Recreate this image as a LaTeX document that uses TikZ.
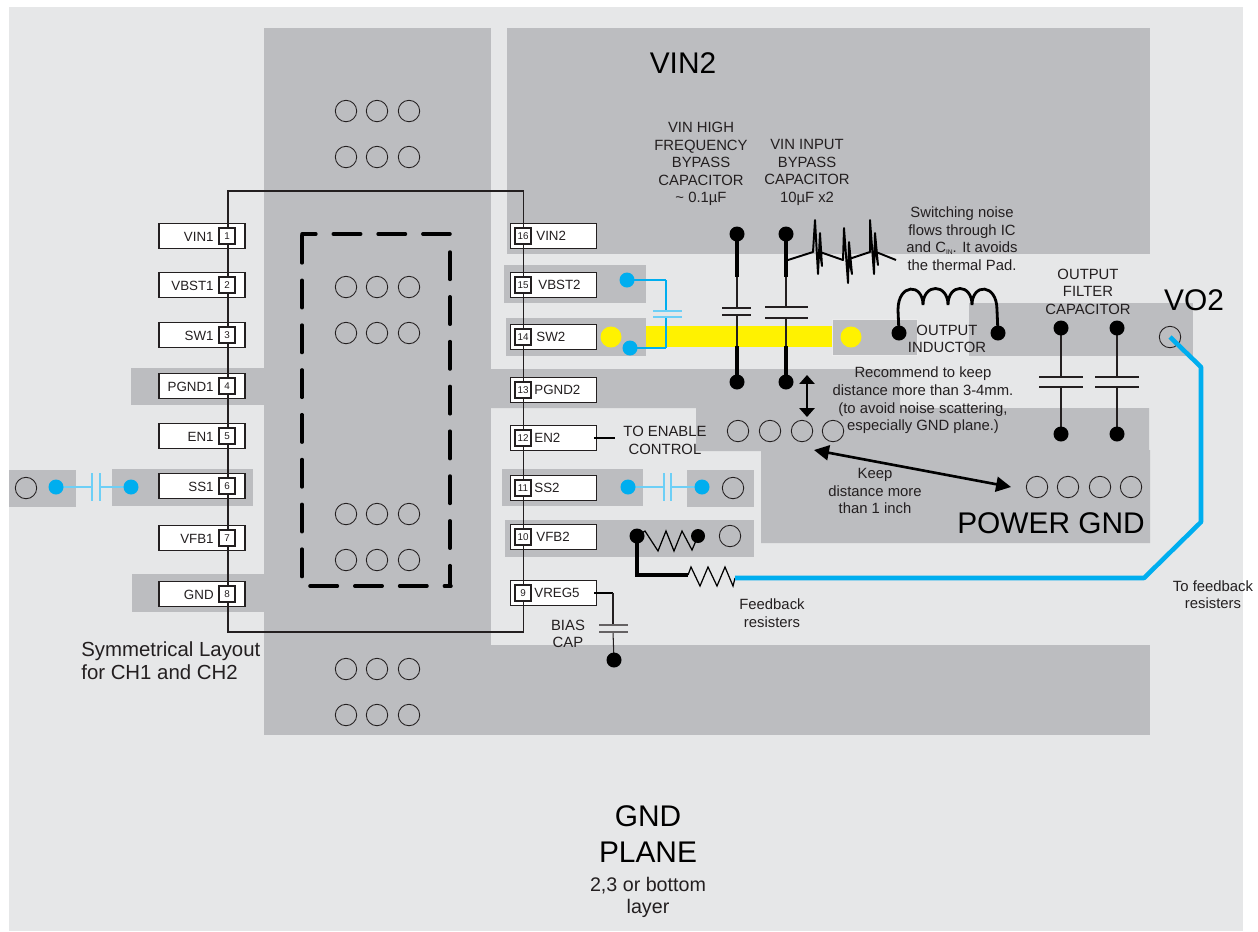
\documentclass[tikz,border=0pt]{standalone}
\usepackage{fontspec}
\setmainfont{Liberation Sans}
\usepackage{tikz}
\usetikzlibrary{arrows.meta}
\definecolor{planegray}{HTML}{E6E7E8}
\definecolor{padgray}{HTML}{BCBDC0}
\definecolor{traceblue}{HTML}{00AEEF}
\definecolor{capblue}{HTML}{6DCFF6}
\definecolor{inkblack}{HTML}{231F20}
\definecolor{swyellow}{HTML}{FFF200}
\tikzset{
  pad/.style={fill=padgray,draw=none},
  thinwire/.style={draw=inkblack,line width=.6pt},
  platewire/.style={draw=inkblack,line width=.8pt},
  thickwire/.style={draw=black,line width=1.8pt},
  bluewire/.style={draw=traceblue,line width=1.5pt},
  capwire/.style={draw=capblue,line width=.7pt},
  via/.style={draw=inkblack,line width=.5pt},
  thermal/.style={black,line width=2pt,line cap=round,dash pattern=on 15.6pt off 9.9pt},
  pinbox/.style={draw=inkblack,fill=white,line width=.6pt,minimum width=1.72cm,minimum height=.5cm,inner sep=0pt},
  numbox/.style={draw=inkblack,fill=white,line width=.8pt,minimum width=.32cm,minimum height=.32cm,inner sep=0pt,font=\fontsize{5.6}{6}\selectfont,text=inkblack},
  pintext/.style={inner sep=0pt,text=inkblack,font=\fontsize{7.6}{10}\selectfont},
  note/.style={inner sep=0pt,align=center,text=inkblack,font=\fontsize{8.45}{10}\selectfont},
  bignote/.style={inner sep=0pt,align=center,text=black,font=\fontsize{17}{20}\selectfont},
  distarrow/.style={black,line width=1.5pt},
}
\begin{document}
\begin{tikzpicture}[x=.02cm,y=-.02cm]
  \useasboundingbox (0,0) rectangle (1258,931);
  \fill[planegray] (9,7) rectangle (1243,931);

  % copper areas
  \fill[pad] (264,28) rectangle (491,735);
  \fill[pad] (491,645) rectangle (1150,735);
  \fill[pad] (507,28) rectangle (1150,254);
  \fill[pad] (131,368) rectangle (264,405);
  \fill[pad] (132,574) rectangle (264,612);
  \fill[pad] (9,470) rectangle (76,507);
  \fill[pad] (112,469) rectangle (253,506);
  \fill[pad] (491,369)--(900,369)--(900,408)--(1149,408)--(1149,450)--(1150,450)--(1150,543)
      --(761,543)--(761,451)--(696,451)--(696,408)--(491,408)--cycle;
  \fill[pad] (504,265) rectangle (646,303);
  \fill[pad] (506,318) rectangle (646,356);
  \fill[pad] (502,469) rectangle (643,506);
  \fill[pad] (687,470) rectangle (754,507);
  \fill[pad] (505,520) rectangle (754,557);
  \filldraw[pad,draw=white!70!padgray,line width=.4pt] (832,319) rectangle (917,355);
  \fill[pad] (969,303) rectangle (1193,356);
  \fill[swyellow] (646,326) rectangle (832,347);
  \fill[swyellow] (611,337) circle(10.5);
  \fill[swyellow] (851,337) circle(10.5);

  % vias
  \foreach \viay in {111,157,287,333,514,560,669,715}
    \foreach \viax in {346,377,409}
      \draw[via] (\viax,\viay) circle(10.7);
  \foreach \viax in {738,770,802,833}
    \draw[via] (\viax,431) circle(10.7);
  \foreach \viax in {1037,1068,1100,1131}
    \draw[via] (\viax,487) circle(10.7);
  \draw[via] (733,488) circle(10.7);
  \draw[via] (730,536) circle(10.7);
  \draw[via] (1170,337) circle(10.7);
  \draw[via] (26,488) circle(10.7);

  % thermal pad
  \draw[thermal] (302,235.5)--(302,578);
  \draw[thermal,dash phase=7.7pt] (302,234)--(450,234);
  \draw[thermal] (450,252)--(450,586);
  \draw[thermal] (310,586)--(451,586);

  % pins
  \foreach \n/\piny/\pinname in {1/236/VIN1,2/285/VBST1,3/335/SW1,4/386/PGND1,5/436/EN1,6/486/SS1,7/538/VFB1,8/594/GND}{
    \node[pinbox] (pin\n) at (202,\piny) {};
    \node[pintext,anchor=east] (lab\n) at (214,\piny+1) {\pinname};
  }
  \foreach \n/\piny/\labx/\pinname in {16/236/536/VIN2,15/285/538/VBST2,14/337/536/SW2,13/390/534/PGND2,12/438/534/EN2,11/488/534/SS2,10/537/536/VFB2,9/593/534/VREG5}{
    \node[pinbox] (pin\n) at (553.5,\piny) {};
    \node[pintext,anchor=west] (lab\n) at (\labx,\piny) {\pinname};
  }
  \draw[thinwire] (228,191) rectangle (523.5,632);
  \foreach \n/\pinx/\piny in {1/227/236,2/227/285,3/227/335,4/227/386,5/227/436,6/227/486,7/227/538,8/227/594,16/523/236,15/523/285,14/523/337,13/523/390,12/523/438,11/523/488,10/523/537,9/523/593}
    \node[numbox] (num\n) at (\pinx,\piny) {\n};

  % input capacitors
  \coordinate (hftop) at (737,234);
  \coordinate (hfmid) at (737,277);
  \coordinate (hflow) at (737,346);
  \coordinate (hfbot) at (737,382);
  \coordinate (intop) at (786,234);
  \coordinate (inmid) at (786,277);
  \coordinate (inlow) at (786,346);
  \coordinate (inbot) at (786,382);
  \draw[thickwire] (hftop)--(hfmid);
  \draw[thickwire] (hflow)--(hfbot);
  \draw[thinwire] (hfmid)--(737,308);
  \draw[thinwire] (737,315)--(hflow);
  \draw[platewire] (722,308)--(751,308);
  \draw[platewire] (722,315)--(751,315);
  \draw[thickwire] (intop)--(inmid);
  \draw[thickwire] (inlow)--(inbot);
  \draw[thinwire] (inmid)--(786,307);
  \draw[thinwire] (786,318)--(inlow);
  \draw[platewire] (765,307)--(808,307);
  \draw[platewire] (765,318)--(808,318);
  \fill (hftop) circle(7.5);
  \fill (hfbot) circle(7.5);
  \fill (intop) circle(7.5);
  \fill (inbot) circle(7.5);

  % switching noise
  \draw[black,line width=1.1pt,line join=round] (788,260)--(813,252)--(815,220)--(818,274)--(820,233)--(822,266)--(820,252)
      --(843,260)--(844,228)--(848,283)--(849,242)--(852,274)--(849,259)
      --(870,252)--(870,220)--(874,274)--(875,233)--(878,265)--(876,252)--(896,260);

  % inductor
  \coordinate (lleft) at (899,333);
  \coordinate (lright) at (998,333);
  \draw[black,line width=1.6pt] (lleft)--(898,310) .. controls (898,283) and (923,283) .. (923,305)
      .. controls (923,283) and (948,283) .. (948,305)
      .. controls (948,283) and (972,283) .. (972,305)
      .. controls (972,283) and (997,283) .. (997,310)--(lright);
  \fill (lleft) circle(7.5);
  \fill (lright) circle(7.5);

  % output capacitors
  \coordinate (outatop) at (1061,328);
  \coordinate (outabot) at (1061,434);
  \coordinate (outbtop) at (1117,328);
  \coordinate (outbbot) at (1117,434);
  \draw[thinwire] (outatop)--(1061,377);
  \draw[thinwire] (1061,387)--(outabot);
  \draw[platewire] (1039,377)--(1083,377);
  \draw[platewire] (1039,387)--(1083,387);
  \draw[thinwire] (outbtop)--(1117,377);
  \draw[thinwire] (1117,387)--(outbbot);
  \draw[platewire] (1095,377)--(1139,377);
  \draw[platewire] (1095,387)--(1139,387);
  \fill (outatop) circle(7.5);
  \fill (outabot) circle(7.5);
  \fill (outbtop) circle(7.5);
  \fill (outbbot) circle(7.5);

  % boot capacitor
  \coordinate (bsta) at (627,280);
  \coordinate (bstb) at (630,348);
  \coordinate (bstc) at (666,280);
  \coordinate (bstd) at (666,348);
  \draw[bluewire] (bsta)--(bstc);
  \draw[bluewire] (bstb)--(bstd);
  \draw[traceblue,line width=.7pt] (bstc)--(666,311);
  \draw[traceblue,line width=.7pt] (666,317)--(bstd);
  \draw[capwire] (653,311)--(682,311);
  \draw[capwire] (653,317)--(682,317);
  \fill[traceblue] (bsta) circle(7.5);
  \fill[traceblue] (bstb) circle(7.5);

  % soft start capacitors
  \coordinate (ssa) at (628,487);
  \coordinate (ssb) at (702,487);
  \coordinate (ssc) at (56,487);
  \coordinate (ssd) at (131,487);
  \draw[capwire] (ssa)--(664,487);
  \draw[capwire] (671,487)--(ssb);
  \draw[capwire] (664,473)--(664,501);
  \draw[capwire] (671,473)--(671,501);
  \draw[capwire] (ssc)--(92,487);
  \draw[capwire] (100,487)--(ssd);
  \draw[capwire] (92,473)--(92,501);
  \draw[capwire] (100,473)--(100,501);
  \fill[traceblue] (ssa) circle(7.5);
  \fill[traceblue] (ssb) circle(7.5);
  \fill[traceblue] (ssc) circle(7.5);
  \fill[traceblue] (ssd) circle(7.5);

  % feedback
  \coordinate (fba) at (637,536);
  \coordinate (fbb) at (698,536);
  \coordinate (fbc) at (688,575);
  \coordinate (fbd) at (735,578);
  \coordinate (fbe) at (1201,367);
  \coordinate (fbf) at (1201,522);
  \coordinate (fbg) at (1144,578);
  \coordinate (vout) at (1170,337);
  \draw[black,line width=.7pt] (fba)--(645,531)--(658,551)--(666,531)--(674,551)--(682,531)--(692,550)--(fbb);
  \draw[black,line width=.7pt] (fbc)--(691,567)--(700,586)--(708,567)--(717,586)--(725,567)--(733,586)--(fbd);
  \draw[thickwire,line join=miter] (fba)--(637,575)--(fbc);
  \draw[traceblue,line width=2.6pt,line join=round] (fbd)--(fbg)--(fbf)--(fbe)--(vout);
  \fill (fba) circle(7.5);
  \fill (fbb) circle(7);

  % enable and bias
  \coordinate (ena) at (594,438);
  \coordinate (enb) at (615,438);
  \coordinate (biasa) at (594,593);
  \coordinate (biasb) at (613,593);
  \coordinate (biasc) at (614,660);
  \draw[thickwire,line width=1.3pt] (ena)--(enb);
  \draw[thickwire,line width=1.3pt] (biasa)--(biasb);
  \draw[thinwire] (biasb)--(613,625);
  \draw[thinwire] (613,632)--(biasc);
  \draw[platewire,draw=inkblack!70] (599,625)--(628,625);
  \draw[platewire,draw=inkblack!70] (599,632)--(628,632);
  \fill (biasc) circle(7.5);

  % distance arrows
  \coordinate (gapa) at (807,375);
  \coordinate (gapb) at (807,417);
  \coordinate (keepa) at (814,450);
  \coordinate (keepb) at (1011,487);
  \draw[distarrow,{Triangle[length=5pt,width=8.5pt]}-{Triangle[length=5pt,width=8.5pt]}] (gapa)--(gapb);
  \draw[distarrow,{Triangle[length=8.5pt,width=8.5pt]}-{Triangle[length=8.5pt,width=8.5pt]}] (keepa)--(keepb);

  % labels
  \node[bignote] (vintwo) at (683,63) {VIN2};
  \node[bignote] (vtwo) at (1194,300) {VO2};
  \node[bignote] (pgnd) at (1051,523) {POWER GND};
  \node[bignote] (plane) at (648,834) {GND\\PLANE};
  \node[note,font=\fontsize{11.2}{12.5}\selectfont] (layer) at (648,897) {2,3 or bottom\\layer};
  \node[note] (hfcap) at (701,164) {VIN HIGH\\FREQUENCY\\BYPASS\\CAPACITOR\\\textasciitilde\ 0.1µF};
  \node[note] (incap) at (807,172.5) {VIN INPUT\\BYPASS\\CAPACITOR\\10µF x2};
  \node[note] (noise) at (962,238.5) {Switching noise\\flows through IC\\and C\raisebox{-1.2pt}{\fontsize{3.8}{4}\selectfont IN}. It avoids\\the thermal Pad.};
  \node[note] (outcap) at (1088,291.5) {OUTPUT\\FILTER\\CAPACITOR};
  \node[note] (outind) at (947,339) {OUTPUT\\INDUCTOR};
  \node[note] (keepnote) at (923,400.5) {Recommend to keep\\distance more than 3-4mm.\\(to avoid noise scattering,\\especially GND plane.)};
  \node[note] (enable) at (665,440.5) {TO ENABLE\\CONTROL};
  \node[note] (inch) at (875,491) {Keep\\distance more\\than 1 inch};
  \node[note] (bias) at (568,634) {BIAS\\CAP};
  \node[note] (fbres) at (772,613) {Feedback\\resisters};
  \node[note] (tofb) at (1213,594.5) {To feedback\\resisters};
  \node[note,align=left,anchor=west,font=\fontsize{11.6}{13}\selectfont] (sym) at (81,660.5) {Symmetrical Layout\\for CH1 and CH2};
\end{tikzpicture}
\end{document}
